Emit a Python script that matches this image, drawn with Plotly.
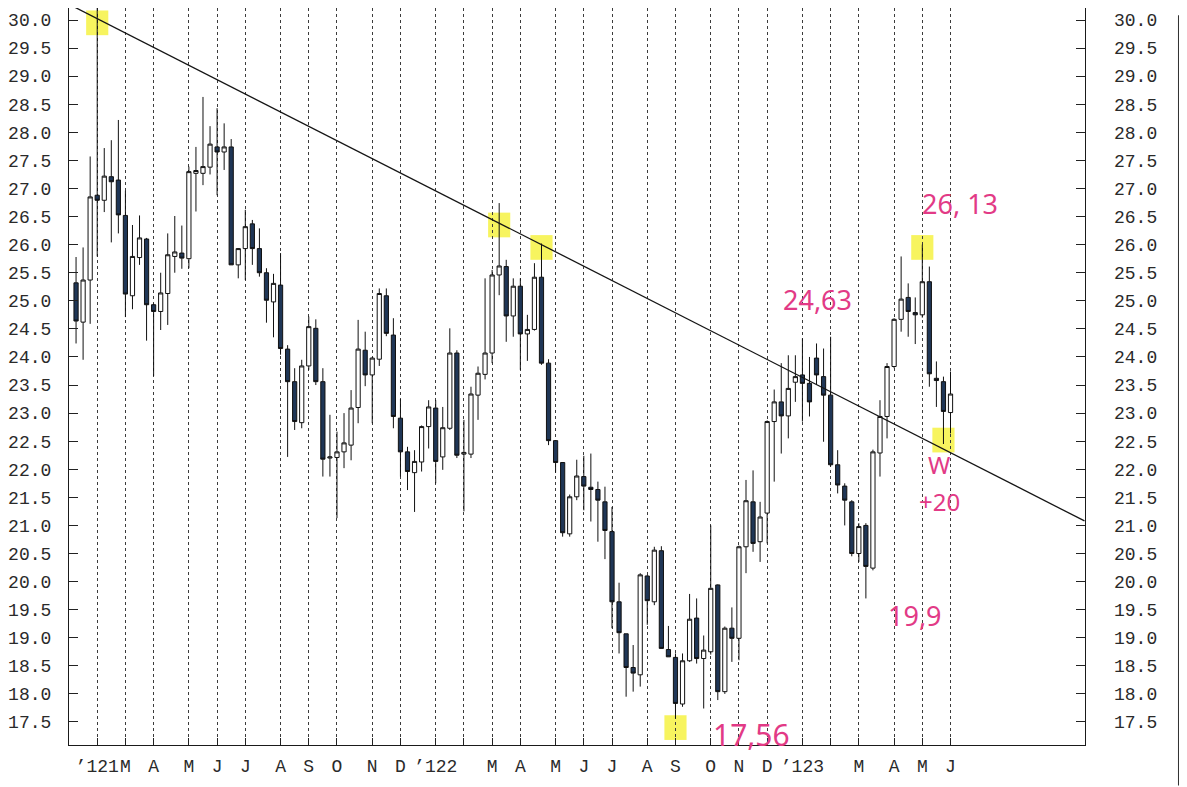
import pandas as pd
import plotly.graph_objects as go

# ---------------- data (weekly candles) ----------------
start_week = "2021-01-15"

opens = [25.32, 24.62, 25.37, 26.88, 26.79, 27.21, 27.15, 26.52, 25.09, 25.77,
         26.10, 24.93, 24.81, 25.13, 25.79, 25.85, 25.75, 27.27, 27.27, 27.38,
         27.74, 27.65, 27.74, 25.64, 25.93, 26.37, 25.93, 25.50, 24.98, 25.28,
         24.14, 23.56, 22.83, 23.84, 24.51, 23.56, 22.20, 22.21, 22.31, 22.43,
         23.10, 24.12, 23.68, 23.96, 25.09, 24.39, 22.91, 22.31, 21.94, 22.13,
         22.76, 23.09, 22.22, 22.73, 24.07, 22.27, 22.27, 23.32, 23.69, 24.07,
         25.46, 25.61, 24.73, 25.26, 24.41, 24.49, 25.42, 23.89, 22.51, 22.12,
         20.85, 21.51, 21.87, 21.68, 21.64, 21.42, 20.89, 19.64, 19.07, 18.47,
         18.34, 20.10, 19.64, 20.55, 18.79, 18.65, 17.82, 18.59, 19.35, 18.63,
         18.75, 19.94, 18.04, 19.17, 18.99, 20.62, 21.42, 20.71, 21.22, 22.85,
         23.20, 22.95, 23.55, 23.68, 23.53, 23.98, 23.65, 23.32, 22.08, 21.70,
         21.42, 20.50, 21.00, 20.24, 22.29, 22.94, 23.83, 24.67, 25.06, 24.79,
         24.75, 25.34, 23.62, 23.56, 23.01]

highs = [25.78, 25.95, 27.57, 30.23, 27.72, 27.86, 28.22, 26.96, 26.35, 26.52,
         26.12, 24.95, 25.50, 26.20, 26.51, 26.34, 27.39, 27.74, 28.63, 28.11,
         28.43, 28.16, 27.88, 25.94, 26.62, 26.44, 26.29, 25.58, 25.48, 25.85,
         24.21, 23.80, 23.95, 24.72, 24.67, 23.80, 22.97, 22.67, 23.00, 23.41,
         24.66, 24.45, 24.00, 25.22, 25.22, 24.69, 23.25, 22.40, 22.34, 22.78,
         23.23, 23.23, 23.11, 24.51, 24.12, 22.88, 23.47, 23.83, 25.40, 25.55,
         26.74, 25.73, 25.40, 25.40, 24.75, 25.67, 26.02, 23.96, 22.51, 22.12,
         21.55, 22.17, 22.24, 22.28, 21.78, 21.69, 21.33, 19.98, 19.07, 18.87,
         20.15, 20.12, 20.62, 20.63, 19.21, 18.72, 18.72, 19.78, 19.70, 19.04,
         21.00, 19.95, 19.20, 19.54, 20.64, 21.81, 21.98, 21.42, 22.87, 23.42,
         23.89, 24.03, 24.03, 24.33, 24.00, 24.24, 24.15, 24.36, 22.34, 21.75,
         21.45, 21.04, 21.04, 22.35, 23.23, 23.89, 24.69, 25.79, 25.31, 25.06,
         26.00, 25.61, 23.92, 23.65, 23.74]

lows = [24.24, 23.95, 24.59, 25.79, 26.58, 26.04, 26.20, 24.71, 24.85, 25.64,
        24.29, 23.66, 24.48, 24.57, 25.50, 25.57, 25.58, 26.59, 27.06, 27.25,
        26.88, 27.33, 25.64, 25.40, 25.37, 25.64, 25.43, 24.61, 24.35, 24.04,
        22.22, 22.70, 22.73, 23.77, 23.50, 21.87, 21.87, 21.13, 22.02, 22.16,
        22.82, 23.48, 22.82, 23.84, 24.37, 22.73, 21.87, 21.63, 21.24, 21.96,
        22.37, 21.75, 21.99, 22.70, 22.20, 21.25, 22.20, 22.88, 23.60, 23.89,
        25.10, 24.27, 24.36, 23.77, 23.93, 24.47, 23.86, 22.43, 21.94, 20.80,
        20.80, 21.45, 21.27, 21.07, 20.71, 20.40, 19.17, 18.72, 17.95, 18.04,
        18.13, 19.23, 19.58, 18.81, 18.66, 17.56, 17.77, 18.57, 18.54, 17.74,
        18.70, 17.89, 18.00, 18.57, 18.60, 20.15, 20.53, 20.35, 20.68, 21.78,
        22.28, 22.55, 23.20, 22.85, 22.94, 23.50, 22.49, 22.05, 21.57, 21.00,
        20.45, 20.35, 19.70, 20.20, 21.87, 22.55, 23.80, 24.45, 24.36, 24.23,
        24.70, 23.47, 23.11, 22.45, 22.64]

closes = [24.64, 25.37, 26.85, 26.79, 27.22, 27.12, 26.53, 25.12, 25.79, 26.12,
          24.93, 24.81, 25.14, 25.82, 25.87, 25.76, 27.30, 27.32, 27.39, 27.79,
          27.65, 27.74, 25.64, 25.93, 26.32, 25.93, 25.50, 25.01, 25.31, 24.15,
          23.56, 22.85, 23.84, 24.54, 23.56, 22.18, 22.22, 22.31, 22.47, 23.09,
          24.14, 23.68, 23.98, 25.13, 24.42, 22.94, 22.31, 21.96, 22.14, 22.76,
          23.11, 22.14, 22.74, 24.07, 22.25, 22.30, 23.34, 23.71, 24.07, 25.46,
          25.62, 24.73, 25.26, 24.41, 24.49, 25.42, 23.89, 22.51, 22.12, 20.87,
          21.51, 21.88, 21.70, 21.64, 21.45, 20.91, 19.64, 19.09, 18.47, 18.37,
          20.12, 19.66, 20.56, 18.81, 18.66, 17.83, 18.59, 19.33, 18.63, 18.78,
          19.88, 18.04, 19.17, 18.99, 20.62, 21.44, 20.68, 21.15, 22.85, 23.20,
          22.95, 23.44, 23.65, 23.53, 23.20, 23.68, 23.32, 22.08, 21.72, 21.45,
          20.50, 20.98, 20.27, 22.31, 22.94, 23.83, 24.67, 25.03, 24.81, 24.75,
          25.34, 23.70, 23.58, 23.03, 23.34]

# month gridlines (first weekly bar of each month) and their labels
month_ticks = ["2021-02-05", "2021-03-05", "2021-04-02", "2021-05-07", "2021-06-04",
               "2021-07-02", "2021-08-06", "2021-09-03", "2021-10-01", "2021-11-05",
               "2021-12-03", "2022-01-07", "2022-02-04", "2022-03-04", "2022-04-01",
               "2022-05-06", "2022-06-03", "2022-07-01", "2022-08-05", "2022-09-02",
               "2022-10-07", "2022-11-04", "2022-12-02", "2023-01-06", "2023-02-03",
               "2023-03-03", "2023-04-07", "2023-05-05", "2023-06-02"]
month_labels = ["’121", "M", "A", "M", "J", "J", "A", "S", "O", "N", "D",
                "’122", "", "M", "A", "M", "J", "J", "A", "S", "O", "N", "D",
                "’123", "", "M", "A", "M", "J"]

y_ticks = [17.5, 18.0, 18.5, 19.0, 19.5, 20.0, 20.5, 21.0, 21.5, 22.0, 22.5, 23.0, 23.5,
           24.0, 24.5, 25.0, 25.5, 26.0, 26.5, 27.0, 27.5, 28.0, 28.5, 29.0, 29.5, 30.0]

# hand-drawn trend line
trend_dates = ["2021-01-08", "2023-10-13"]
trend_values = [30.28, 21.08]

# yellow highlighter marks (candle index, value)
highlight_index = [3, 60, 66, 85, 120, 123]
highlight_values = [29.95, 26.35, 25.95, 17.40, 25.95, 22.52]

# handwritten notes
note_texts = ["26, 13", "24,63", "19,9", "17,56", "W", "+20"]
note_x = [0.877, 0.737, 0.833, 0.672, 0.857, 0.857]
note_y = [0.735, 0.604, 0.176, 0.014, 0.381, 0.330]
note_size = [27, 27, 27, 30, 24, 24]

# ---------------- figure ----------------
dates = pd.date_range(start_week, periods=len(opens), freq="W-FRI")

INK = "#2a2a2a"
NAVY = "#1f3656"
PINK = "#e23a86"
FONT = "Liberation Mono"

fig = go.Figure()

fig.add_trace(go.Candlestick(
    x=dates, open=opens, high=highs, low=lows, close=closes,
    increasing=dict(fillcolor="white", line=dict(color="#111111", width=1)),
    decreasing=dict(fillcolor=NAVY, line=dict(color="#111111", width=1)),
    whiskerwidth=0, showlegend=False, hoverinfo="skip",
))

fig.add_trace(go.Scatter(
    x=trend_dates, y=trend_values, mode="lines",
    line=dict(color="#151515", width=1.3), showlegend=False, hoverinfo="skip",
))

# invisible trace for right-hand axis labels
fig.add_trace(go.Scatter(x=[dates[0]], y=[y_ticks[0]], yaxis="y2", mode="markers",
                         marker=dict(opacity=0), showlegend=False, hoverinfo="skip"))

shapes = []
for i, v in zip(highlight_index, highlight_values):
    d = dates[i]
    shapes.append(dict(
        type="rect", xref="x", yref="y", layer="below",
        x0=d - pd.Timedelta(days=11), x1=d + pd.Timedelta(days=11),
        y0=v - 0.22, y1=v + 0.22,
        fillcolor="#f4f02a", opacity=0.75, line=dict(width=0),
    ))
# paper edge on the right
shapes.append(dict(type="line", xref="paper", yref="paper", x0=1.0925, x1=1.0925,
                   y0=0.99, y1=-0.055, layer="above", line=dict(color="#333333", width=2)))

y_range = [17.09, 30.214]
x_range = ["2021-01-08", "2023-10-13 12:00"]

fig.update_layout(
    width=1179, height=779,
    margin=dict(l=61, r=102, t=0, b=42, autoexpand=False),
    paper_bgcolor="white", plot_bgcolor="white",
    font=dict(family=FONT, color=INK, size=18),
    boxgap=0.15,
    shapes=shapes,
    xaxis=dict(
        type="date", range=x_range, automargin=False,
        rangeslider=dict(visible=False),
        tickmode="array", tickvals=month_ticks, ticktext=month_labels,
        tickangle=0,
        ticks="inside", ticklen=7, tickcolor="#222", tickwidth=1,
        tickfont=dict(family=FONT, size=18, color=INK),
        showgrid=True, gridcolor="#3c3c3c", gridwidth=1, griddash="dot",
        showline=True, linecolor="#1a1a1a", linewidth=1.2, mirror=True,
        zeroline=False, fixedrange=True, ticklabelstandoff=4,
    ),
    yaxis=dict(
        range=y_range, tickmode="array", tickvals=y_ticks, automargin=False,
        ticktext=[f"{t:.1f}" for t in y_ticks],
        ticks="inside", ticklen=9, tickcolor="#222", tickwidth=1,
        tickfont=dict(family=FONT, size=18, color=INK),
        showgrid=False, zeroline=False,
        showline=True, linecolor="#1a1a1a", linewidth=1.2, mirror=True,
        ticklabelstandoff=13,
    ),
    yaxis2=dict(
        range=y_range, overlaying="y", side="right", automargin=False,
        tickmode="array", tickvals=y_ticks,
        ticktext=[f"{t:.1f}" for t in y_ticks],
        ticks="inside", ticklen=9, tickcolor="#222", tickwidth=1,
        tickfont=dict(family=FONT, size=18, color=INK),
        showgrid=False, zeroline=False, showline=False,
        ticklabelstandoff=28,
    ),
)

for t, xp, yp, s in zip(note_texts, note_x, note_y, note_size):
    fig.add_annotation(
        x=xp, y=yp, xref="paper", yref="paper", text=t, showarrow=False,
        xanchor="center", yanchor="middle",
        font=dict(family="Noto Sans", size=s, color=PINK),
    )

fig.write_html("out.html")
